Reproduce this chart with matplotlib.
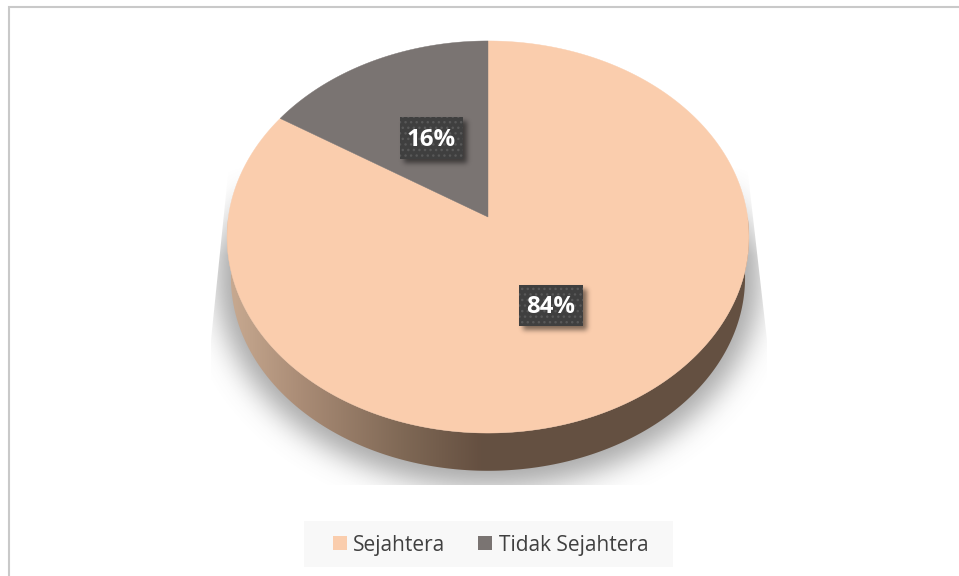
#!/usr/bin/env python3
"""Perspective 3D-style pie: Sejahtera vs Tidak Sejahtera."""

import matplotlib

matplotlib.use("Agg")
import matplotlib.pyplot as plt
from matplotlib.patches import Patch, Polygon, Rectangle
import numpy as np

categories = ["Sejahtera", "Tidak Sejahtera"]
values = [84, 16]
colors = ["#FACDAD", "#7A7472"]

W, H = 959, 576
APEX = (488, 217)
A, B, K = 259.6, 194.0, 0.102
DEPTH = 41

plt.rcParams["font.family"] = ["Open Sans", "DejaVu Sans"]
plt.rcParams["hatch.linewidth"] = 1.0


def disc_xy(t, scale=1.0, dy=0.0):
    # t in radians, clockwise from the top of the pie
    xx, yy = np.sin(t), np.cos(t)
    d = 1 + K * yy
    return APEX[0] + scale * A * xx / d, APEX[1] + dy - scale * B * yy / d


def blur(img, sigma):
    r = int(3 * sigma)
    kern = np.exp(-0.5 * (np.arange(-r, r + 1) / sigma) ** 2)
    kern /= kern.sum()
    img = np.apply_along_axis(lambda s: np.convolve(s, kern, mode="same"), 0, img)
    return np.apply_along_axis(lambda s: np.convolve(s, kern, mode="same"), 1, img)


def grey_layer(ax, alpha, clip=None, zorder=1):
    rgba = np.zeros((H, W, 4))
    rgba[..., :3] = 0.45
    rgba[..., 3] = alpha
    im = ax.imshow(rgba, extent=(0, W, H, 0), aspect="auto", zorder=zorder, interpolation="bilinear")
    if clip is not None:
        im.set_clip_path(clip)
    return im


fig = plt.figure(figsize=(W / 100, H / 100), dpi=100)
ax = fig.add_axes([0, 0, 1, 1])
ax.set_axis_off()

# ground shadow, cut off by a slanted box like the original render
yy, xx = np.mgrid[0:H, 0:W]
shadow = (((xx - 488) / 272.0) ** 2 + ((yy - 275) / 212.0) ** 2 <= 1).astype(float)
shadow = blur(shadow, 14) * 0.62
shadow *= np.clip((yy - 165) / 90.0, 0, 1)  # fades out towards the top
clip = Polygon(
    [(229, 165), (747, 165), (767, 340), (767, 485), (211, 485), (211, 340)],
    transform=ax.transData,
)
grey_layer(ax, shadow, clip)

# side wall with a horizontal gradient
tt = np.linspace(0, 2 * np.pi, 721)
lower = tt[(tt >= np.pi / 2) & (tt <= 3 * np.pi / 2)]
top_x, top_y = disc_xy(lower)
bot_x, bot_y = disc_xy(lower, scale=0.985, dy=DEPTH)
side = Polygon(
    np.r_[np.c_[top_x, top_y], np.c_[bot_x, bot_y][::-1]],
    transform=ax.transData,
    facecolor="none",
    edgecolor="none",
)
ax.add_patch(side)
stops_x = [228, 300, 400, 480, 750]
stops_rgb = np.array(
    [[200, 170, 145], [170, 140, 118], [128, 105, 86], [101, 80, 65], [100, 80, 65]]
) / 255
grad = np.stack([np.interp(np.arange(W), stops_x, stops_rgb[:, i]) for i in range(3)], axis=-1)
im = ax.imshow(grad[None, :, :], extent=(0, W, H, 0), aspect="auto", zorder=2)
im.set_clip_path(side)

# top face, slices clockwise from 12 o'clock
start = 0.0
total = sum(values)
for val, col in zip(values, colors):
    stop = start + val / total * 2 * np.pi
    t = np.linspace(start, stop, 400)
    x, y = disc_xy(t)
    ax.add_patch(
        Polygon(np.r_[[APEX], np.c_[x, y]], facecolor=col, edgecolor=col, lw=0.3, zorder=3)
    )
    start = stop

# data labels, dark dotted boxes with soft shadow
label_boxes = [(519, 285, 64, 41), (400, 117, 63, 42)]
for val, (bx, by, bw, bh) in zip(values, label_boxes):
    mask = np.zeros((H, W))
    mask[by + 4 : by + bh + 4, bx + 4 : bx + bw + 4] = 1
    rgba = np.zeros((H, W, 4))
    rgba[..., 3] = blur(mask, 2.5) * 0.5
    ax.imshow(rgba, extent=(0, W, H, 0), aspect="auto", zorder=4)
    ax.add_patch(
        Rectangle((bx, by), bw, bh, facecolor="#3F3F3F", edgecolor="#585858", hatch="...", lw=0, zorder=5)
    )
    ax.text(
        bx + bw / 2,
        by + bh / 2 + 1.5,
        f"{val}%",
        color="white",
        fontsize=17.3,
        fontweight="bold",
        ha="center",
        va="center",
        zorder=6,
    )

# chart border
ax.plot([8.5, 8.5, W], [H, 6.5, 6.5], color="#C9C9C9", lw=1.5, zorder=1, solid_joinstyle="miter")

ax.set_xlim(0, W)
ax.set_ylim(H, 0)

# legend background sits apart, its padding is wider than tall
ax.add_patch(Rectangle((304, 521), 369, 46, facecolor="#F8F8F8", edgecolor="none", zorder=1))
handles = [Patch(facecolor=c, edgecolor="none") for c in colors]
leg = ax.legend(
    handles,
    categories,
    loc="center",
    bbox_to_anchor=(490.5 / W, 1 - 545 / H),
    ncol=2,
    frameon=False,
    fontsize=15,
    labelcolor="#404040",
    handlelength=0.67,
    handleheight=0.67,
    handletextpad=0.3,
    columnspacing=1.6,
    borderpad=0,
    borderaxespad=0,
)

fig.savefig("out.png", dpi=100)
